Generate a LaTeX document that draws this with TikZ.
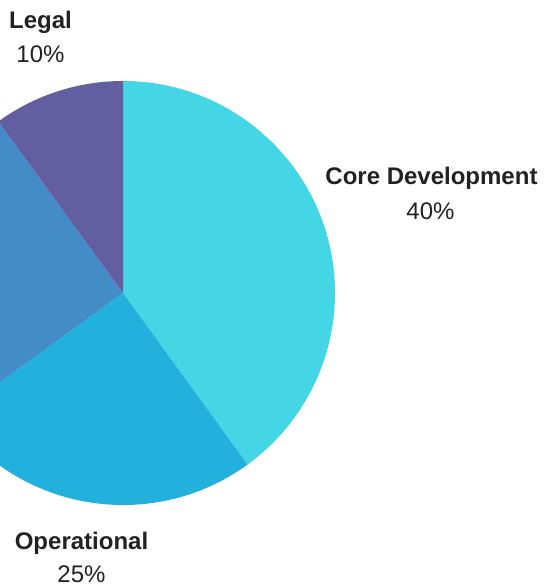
\documentclass[tikz,border=0pt]{standalone}
\usepackage{fontspec}
\setmainfont{Liberation Sans}
\usepackage{tikz}
\usetikzlibrary{positioning}
\definecolor{coreclr}{HTML}{44D6E4}
\definecolor{opclr}{HTML}{22B0DC}
\definecolor{thirdclr}{HTML}{438CC8}
\definecolor{legalclr}{HTML}{635E9F}
\definecolor{textclr}{HTML}{222222}
\tikzstyle{slicename} = [anchor=base, inner sep=0pt, text=textclr, font=\bfseries\fontsize{12}{14}\selectfont]
\tikzstyle{slicepct} = [anchor=base, inner sep=0pt, text=textclr, font=\fontsize{12}{14}\selectfont]

\begin{document}
\begin{tikzpicture}[x=0.5pt, y=0.5pt]
	\clip (0,0) rectangle (543,584);
	\useasboundingbox (0,0) rectangle (543,584);
	\coordinate (Center) at (123,291);
	
	\foreach \a/\b/\c in {90/-54/coreclr, -54/-144/opclr, -144/-234/thirdclr, -234/-270/legalclr}
		\fill[\c] (Center) -- ++(\a:106pt) arc[start angle=\a, end angle=\b, radius=106pt] -- cycle;
	
	\node (Legal) [slicename] at (40.5,555) {Legal};
	\node (LegalPct) [slicepct] at (40.5,521) {10\%};
	\node (Core) [slicename] at (431.5,399) {Core Development};
	\node (CorePct) [slicepct] at (430.5,364) {40\%};
	\node (Operational) [slicename] at (81.5,34) {Operational};
	\node (OperationalPct) [slicepct] at (81.5,2) {25\%};
\end{tikzpicture}
\end{document}
